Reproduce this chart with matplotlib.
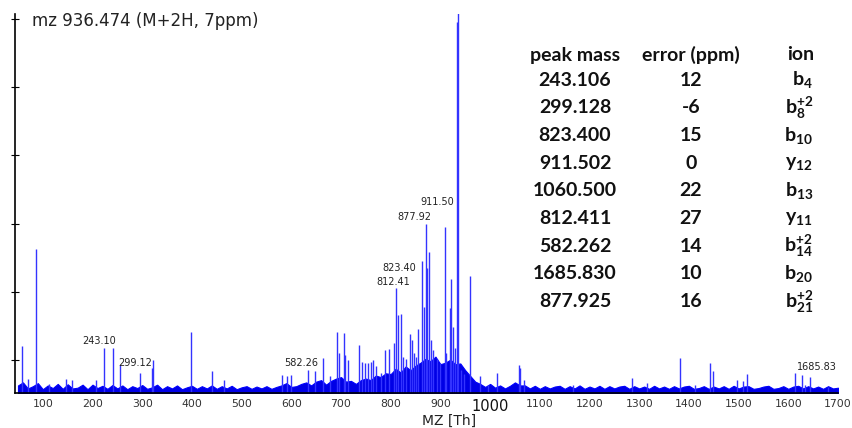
import matplotlib
matplotlib.use("Agg")
import matplotlib.pyplot as plt
import numpy as np

# ---------------- data ----------------
peak_mz = [59, 70.5, 86, 112, 147.6, 159, 206, 223, 242, 256, 296, 318.7, 320.7,
           399, 441, 465, 580.5, 590.6, 598.7, 634, 646.7, 663.4, 677, 691.6, 696,
           706.4, 709, 715, 736, 742, 748, 754.6, 761, 764.6, 770, 781, 789, 796,
           806, 811.6, 815.6, 820, 825, 830, 838, 842, 847, 851, 855, 862.6, 866,
           870, 874, 877.3, 881, 885.4, 893, 900, 909, 912, 919, 922, 925.6, 930,
           934, 936, 942, 948, 960, 979, 996, 1013, 1058, 1060, 1068.5, 1167, 1286,
           1315, 1382, 1412, 1442, 1449, 1497, 1509, 1517, 1614, 1628, 1634,
           1644.6, 1680]
peak_int = [12.5, 3.7, 38, 2.5, 3.7, 3.3, 3.5, 11.8, 12, 7.4, 5.4, 6.5, 8.7,
            16.2, 5.8, 3.4, 4.7, 4.5, 4.7, 6, 5.8, 9.2, 4.5, 16, 10.5,
            15.8, 10, 8.7, 12.6, 8.3, 8, 8, 8.3, 8.7, 7, 5.3, 11.4, 11.7,
            13.3, 27.6, 20.6, 20.8, 9.6, 9, 15.5, 14, 10.5, 9.6, 17, 34.7, 22.8,
            44.5, 32.9, 37.3, 14, 11.4, 9, 8, 43.9, 10.5, 22.3, 30, 17.5, 12,
            98, 104, 6.2, 5, 31, 4.5, 2, 5.4, 7.4, 6.5, 3.4, 2, 3.9,
            2.6, 9.2, 2, 8, 5.8, 3.4, 3.1, 5, 5.2, 4.8, 2,
            4.3, 1.5]

floor_mz = list(range(50, 1701, 10))
floor_int = [2.0, 2.8, 1.2, 1.8, 2.6, 1.0, 2.0, 1.3, 2.4, 1.1,
             2.3, 1.2, 1.4, 2.2, 1.0, 2.2, 1.3, 1.9, 1.1, 2.1,
             1.2, 2.0, 1.0, 1.8, 1.3, 2.1, 1.1, 1.5, 2.2, 1.0,
             1.8, 1.2, 2.0, 1.0, 1.5, 1.9, 1.1, 1.8, 1.2, 2.0,
             1.1, 1.8, 1.2, 1.9, 1.0, 1.5, 1.8, 1.1, 1.7, 1.2,
             1.8, 1.1, 1.6, 2.0, 2.6, 1.6, 1.8, 2.4, 2.8, 2.0,
             3.0, 3.4, 2.2, 3.2, 3.8, 4.2, 3.0, 3.2, 2.4, 3.4,
             3.8, 3.4, 4.6, 4.2, 5.2, 5.0, 6.4, 5.4, 7.0, 6.0,
             7.2, 8.0, 9.0, 8.4, 9.6, 7.6, 8.0, 8.8, 7.6, 7.8,
             6.0, 4.5, 3.0, 2.4, 1.6, 2.4, 1.4, 2.0, 1.2, 1.9,
             2.8, 2.0, 2.0, 1.2, 1.9, 1.1, 1.8, 1.2, 1.7, 1.9,
             1.1, 1.8, 1.2, 2.0, 1.1, 1.7, 1.2, 1.9, 1.1, 1.8,
             1.2, 1.7, 1.9, 1.1, 1.8, 1.2, 1.7, 1.1, 1.9, 1.2,
             1.7, 1.1, 1.8, 1.2, 1.7, 1.9, 1.1, 1.3, 1.8, 1.1,
             1.7, 1.2, 1.8, 1.1, 1.9, 1.2, 1.7, 1.8, 1.1, 1.3,
             1.7, 1.9, 1.1, 1.3, 1.8, 1.1, 1.7, 1.9, 1.2, 1.8,
             1.2, 1.7, 1.1, 1.8, 1.2, 1.4]

peak_labels = ["243.10", "299.12", "582.26", "812.41", "823.40", "877.92", "911.50", "1685.83"]
label_x = [212.7, 285, 620, 805, 818, 848.5, 893, 1657]
label_y = [13.7, 7.9, 7.9, 29.3, 33.0, 46.4, 50.4, 6.9]

x_ticks = [100, 200, 300, 400, 500, 600, 700, 800, 900, 1000, 1100, 1200, 1300,
           1400, 1500, 1600, 1700]
y_ticks = [8.7, 26.7, 44.7, 62.7, 80.7, 98.7]

title = "mz 936.474 (M+2H, 7ppm)"
col_headers = ["peak mass", "error (ppm)", "ion"]
tab_mass = ["243.106", "299.128", "823.400", "911.502", "1060.500", "812.411",
            "582.262", "1685.830", "877.925"]
tab_err = ["12", "-6", "15", "0", "22", "27", "14", "10", "16"]
tab_ion = [("b", "4", ""), ("b", "8", "+2"), ("b", "10", ""), ("y", "12", ""),
           ("b", "13", ""), ("y", "11", ""), ("b", "14", "+2"), ("b", "20", ""),
           ("b", "21", "+2")]

# ---------------- figure ----------------
W, H = 852, 428
plt.rcParams['mathtext.fontset'] = 'custom'
plt.rcParams['mathtext.rm'] = 'Lato:bold'
plt.rcParams['mathtext.bf'] = 'Lato:bold'
plt.rcParams['mathtext.it'] = 'Lato:bold'

fig = plt.figure(figsize=(W / 100, H / 100), dpi=100)
ax = fig.add_axes([15 / W, 1 - 393 / H, (838 - 15) / W, (393 - 14) / H])

ax.fill_between(floor_mz, 0, floor_int, color='#0000e6', linewidth=0.8,
                edgecolor='#0000ff')
ax.vlines(peak_mz, 0, peak_int, color='#3333ff', linewidth=1.0)

ax.set_xlim(44, 1700)
ax.set_ylim(0, 100)

for s in ['top', 'right']:
    ax.spines[s].set_visible(False)
ax.spines['left'].set_linewidth(1.2)
ax.spines['bottom'].set_linewidth(1.2)

ax.set_yticks(y_ticks)
ax.set_yticklabels([])
ax.tick_params(axis='y', direction='inout', length=6, width=0.8)

ax.set_xticks(x_ticks)
ax.set_xticklabels([str(t) for t in x_ticks])
ax.tick_params(axis='x', length=0, pad=4, labelsize=7.8, labelcolor='#333333')
for lab in ax.get_xticklabels():
    if lab.get_text() == "1000":
        lab.set_fontsize(10.5)
        lab.set_color('#111111')

ax.set_xlabel("MZ [Th]", fontsize=10, color='#222222')
ax.xaxis.set_label_coords((449 - 15) / (838 - 15), -0.055)

for t, lx, ly in zip(peak_labels, label_x, label_y):
    ax.text(lx, ly, t, ha='center', va='center', fontsize=7, color='#222222')

fig.text(32 / W, 1 - 21 / H, title, ha='left', va='center', fontsize=12,
         color='#222222')

# table
tfont = dict(family='Lato', weight='bold', fontsize=14, color='#111111')
hdr_x = [575, 691, 801]
fig.text(hdr_x[0] / W, 1 - 55 / H, col_headers[0], ha='center', va='center', **tfont)
fig.text(hdr_x[1] / W, 1 - 55 / H, col_headers[1], ha='center', va='center', **tfont)
fig.text(hdr_x[2] / W, 1 - 55 / H, col_headers[2], ha='center', va='center', **tfont)
for i, (m, e, ion) in enumerate(zip(tab_mass, tab_err, tab_ion)):
    y = 1 - (80 + i * 27.7) / H
    fig.text(hdr_x[0] / W, y, m, ha='center', va='center', **tfont)
    fig.text(hdr_x[1] / W, y, e, ha='center', va='center', **tfont)
    letter, sub, sup = ion
    if sup:
        s = r"$\mathbf{%s}_{\mathbf{%s}}^{\mathbf{%s}}$" % (letter, sub, sup)
    else:
        s = r"$\mathbf{%s}_{\mathbf{%s}}$" % (letter, sub)
    fig.text(813 / W, y, s, ha='right', va='center', **tfont)

fig.savefig("out.png", dpi=100)
